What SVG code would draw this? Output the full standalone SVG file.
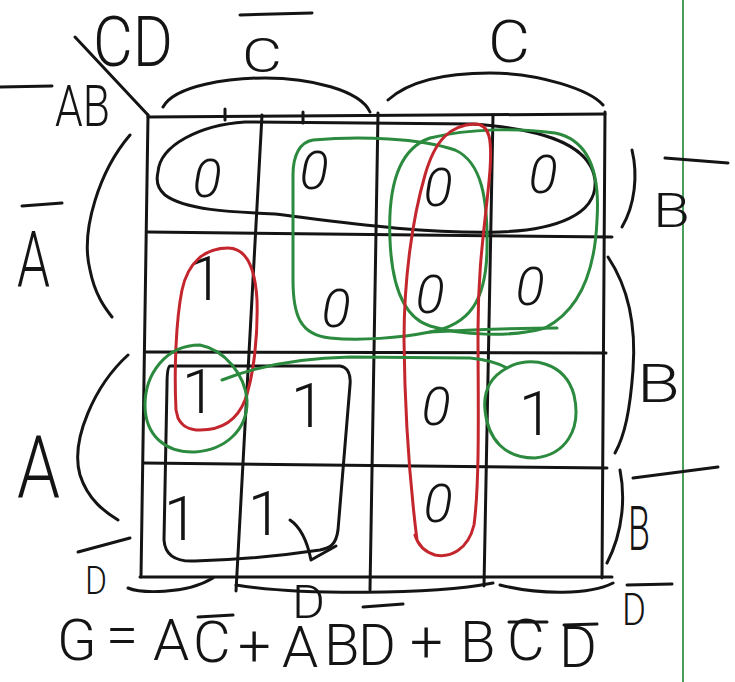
<svg xmlns="http://www.w3.org/2000/svg" width="735" height="682" viewBox="0 0 735 682">
<style>
.ln{stroke:#141414;stroke-width:3;fill:none;stroke-linecap:round;stroke-linejoin:round}
.rd{stroke:#c3262c;stroke-width:3;fill:none;stroke-linecap:round;stroke-linejoin:round}
.gn{stroke:#2b8a3e;stroke-width:3;fill:none;stroke-linecap:round;stroke-linejoin:round}
.t{font-family:Roboto,"Liberation Sans","DejaVu Sans",sans-serif;font-weight:300;fill:#141414}
.z{font-family:Roboto,"Liberation Sans","DejaVu Sans",sans-serif;font-weight:300;fill:#141414;font-size:54px;font-style:italic;text-anchor:middle}
.o{font-family:Roboto,"Liberation Sans","DejaVu Sans",sans-serif;font-weight:300;fill:#141414;font-size:62px;text-anchor:middle}
</style>
<rect width="735" height="682" fill="#ffffff"/>
<line x1="683" y1="0" x2="683" y2="682" stroke="#4b9e5a" stroke-width="2"/>

<g id="grid" class="ln">
<path d="M148,117 L605,114"/>
<path d="M148,232 L612,237"/>
<path d="M146,352 L606,353"/>
<path d="M144,463 L607,468"/>
<path d="M140,577 L612,577"/>
<path d="M148,115 L141,577"/>
<path d="M262,115 L236,591"/>
<path d="M378,113 L370,590"/>
<path d="M493,115 L484,586"/>
<path d="M605,112 L602,578"/>
<path d="M225,109 L225,120 M303,112 L303,123"/>
<path d="M75,37 L148,115"/>
</g>

<g id="header-labels">
<path class="ln" d="M0,87 L52,86"/>
<text class="t" x="93" y="66" font-size="70" textLength="80" lengthAdjust="spacingAndGlyphs">CD</text>
<text class="t" x="55" y="126" font-size="58" textLength="55" lengthAdjust="spacingAndGlyphs">AB</text>
<path class="ln" d="M240,15 L312,13"/>
<text class="t" x="242" y="72" font-size="48" textLength="40" lengthAdjust="spacingAndGlyphs">C</text>
<path class="ln" d="M163,107 C175,85 230,78 265,78 C310,78 360,90 370,112"/>
<text class="t" x="488" y="62" font-size="60" textLength="42" lengthAdjust="spacingAndGlyphs">C</text>
<path class="ln" d="M388,100 C410,80 450,73 490,73 C540,73 590,90 603,105"/>
</g>

<g id="row-labels">
<path class="ln" d="M22,206 L62,203"/>
<text class="t" x="17" y="287" font-size="78" textLength="33" lengthAdjust="spacingAndGlyphs">A</text>
<path class="ln" d="M130,135 C100,170 80,230 90,270 C95,295 105,308 112,317"/>
<text class="t" x="17" y="497" font-size="88" textLength="43" lengthAdjust="spacingAndGlyphs">A</text>
<path class="ln" d="M128,355 C95,385 70,440 80,475 C88,500 105,512 118,520"/>
<path class="ln" d="M632,150 C638,175 635,205 622,227"/>
<path class="ln" d="M665,158 L728,163"/>
<text class="t" x="653" y="227" font-size="48" textLength="37" lengthAdjust="spacingAndGlyphs">B</text>
<path class="ln" d="M608,257 C630,290 636,330 633,370 C630,410 625,435 615,453"/>
<text class="t" x="637" y="402" font-size="54" textLength="43" lengthAdjust="spacingAndGlyphs">B</text>
<path class="ln" d="M633,478 L718,467"/>
<path class="ln" d="M620,470 C625,495 624,530 607,563"/>
<text class="t" x="628" y="550" font-size="62" textLength="22" lengthAdjust="spacingAndGlyphs">B</text>
</g>

<g id="column-labels-bottom">
<path class="ln" d="M78,552 L130,538"/>
<text class="t" x="85" y="594" font-size="38" textLength="22" lengthAdjust="spacingAndGlyphs">D</text>
<path class="ln" d="M128,588 C140,593 185,595 213,578"/>
<path class="ln" d="M236,585 C300,595 430,595 493,583"/>
<text class="t" x="292" y="618" font-size="46" textLength="33" lengthAdjust="spacingAndGlyphs">D</text>
<path class="ln" d="M500,585 C540,595 590,595 613,583"/>
<path class="ln" d="M627,585 L672,584"/>
<text class="t" x="622" y="625" font-size="44" textLength="24" lengthAdjust="spacingAndGlyphs">D</text>
</g>

<g id="cells">
<text class="z" x="207" y="197">0</text>
<text class="z" x="314" y="189">0</text>
<text class="z" x="438" y="206">0</text>
<text class="z" x="543" y="193">0</text>
<text class="o" x="206" y="300">1</text>
<text class="z" x="336" y="327" font-size="60">0</text>
<text class="z" x="430" y="313" font-size="58">0</text>
<text class="z" x="530" y="305" font-size="56">0</text>
<text class="o" x="199" y="413">1</text>
<text class="o" x="308" y="427">1</text>
<text class="z" x="436" y="425" font-size="60">0</text>
<text class="o" x="536" y="435" font-size="72">1</text>
<text class="o" x="181" y="540" font-size="76">1</text>
<text class="o" x="265" y="535" font-size="64">1</text>
<text class="z" x="438" y="522" font-size="60">0</text>
</g>

<g id="groupings">
<path class="ln" d="M158,172 C160,145 200,125 245,122 L473,124 C530,128 590,140 595,180 C598,215 555,230 500,232 C420,234 340,222 275,214 C230,212 185,210 165,195 C157,188 156,180 158,172 Z"/>
<path class="ln" d="M170,366 L340,366 C348,367 351,375 350,385 L338,530 C336,545 330,548 320,550 C280,556 230,560 195,561 C175,562 165,555 164,540 L167,385 C167,372 168,366 170,366 Z"/>
<path class="ln" d="M290,520 Q305,530 311,560 L336,546"/>
<path class="gn" d="M313,140 C360,136 420,138 455,150 C482,162 488,200 487,250 C486,300 470,325 430,332 C400,338 360,341 330,338 C300,335 293,315 293,280 L293,175 C293,155 300,142 313,140 Z"/>
<path class="gn" d="M430,332 C470,330 520,328 557,328"/>
<path class="gn" d="M390,240 C388,195 395,150 430,138 C470,128 520,128 555,133 C590,140 600,175 597,220 C595,270 580,310 545,328 C510,338 460,335 430,326 C405,318 392,290 390,240 Z"/>
<path class="rd" d="M417,540 C412,500 405,430 404,340 C404,280 412,220 425,175 C435,140 450,125 475,124 C490,124 492,140 490,170 C486,220 478,260 478,330 C478,400 480,480 474,525 C468,550 450,558 435,555 C425,552 418,545 415,535"/>
<path class="rd" d="M178,418 C182,426 188,430 200,430 C225,430 238,418 245,400 C254,375 258,335 257,300 C255,265 245,248 228,248 C205,248 188,262 182,290 C176,320 174,370 176,410 L178,418"/>
<path class="gn" d="M200,345 C225,350 245,375 247,400 C248,430 225,450 195,452 C165,453 145,435 145,405 C145,375 165,345 200,345 Z"/>
<path class="gn" d="M222,380 C260,365 300,358 350,357 L470,358 C490,360 500,364 507,368"/>
<path class="gn" d="M507,368 C530,355 565,362 574,395 C582,430 565,455 535,458 C505,458 488,440 485,410 C483,390 492,376 507,368 Z"/>
</g>

<g id="expression">
<text class="t" font-size="58" x="57 106 153 193 238 282 324 358 410 460 507 559" y="660 655 660 662 666 667 665 665 662 662 660 667">G=AC+ABD+BCD</text>
<path class="ln" d="M198,617 L233,615"/>
<path class="ln" d="M363,607 L403,604"/>
<path class="ln" d="M509,622 L547,622"/>
<path class="ln" d="M564,625 L597,624"/>
</g>
</svg>
